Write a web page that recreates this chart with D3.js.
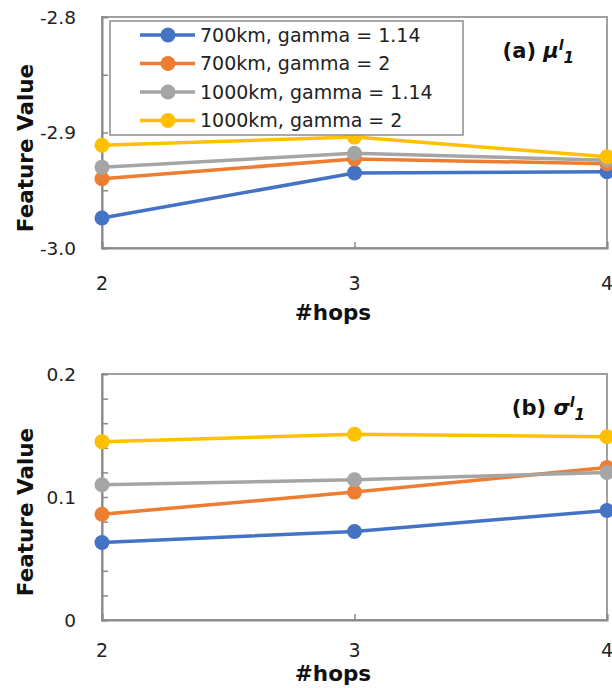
<!DOCTYPE html>
<html><head><meta charset="utf-8">
<script src="https://cdn.jsdelivr.net/npm/d3@7/dist/d3.min.js"></script>
<style>body{margin:0;background:#fff}svg{display:block}</style>
</head><body>
<svg id="c" width="612" height="688"></svg>
<script>
const hops = [2, 3, 4];
const seriesNames = ["700km, gamma = 1.14", "700km, gamma = 2", "1000km, gamma = 1.14", "1000km, gamma = 2"];
const seriesColors = ["#4472C4", "#ED7D31", "#A5A5A5", "#FFC000"];
// panel (a) mu'_1
const mu700g114 = [-2.974, -2.935, -2.934];
const mu700g2 = [-2.940, -2.923, -2.927];
const mu1000g114 = [-2.930, -2.918, -2.924];
const mu1000g2 = [-2.911, -2.904, -2.921];
// panel (b) sigma'_1
const sd700g114 = [0.063, 0.072, 0.089];
const sd700g2 = [0.086, 0.104, 0.124];
const sd1000g114 = [0.110, 0.114, 0.120];
const sd1000g2 = [0.145, 0.151, 0.149];
const muTicks = [-3.0, -2.9, -2.8];
const muTickLabels = ["-3.0", "-2.9", "-2.8"];
const sdTicks = [0, 0.1, 0.2];
const sdTickLabels = ["0", "0.1", "0.2"];

const svg = d3.select("#c");
const FONT = "DejaVu Sans";
const axisColor = "#898989";

function panel(cfg) {
  const g = svg.append("g");
  const x = d3.scaleLinear().domain([2, 4]).range([cfg.left, cfg.right]);
  const y = d3.scaleLinear().domain(cfg.domain).range([cfg.bottom, cfg.top]);
  // frame
  g.append("rect").attr("x", cfg.left).attr("y", cfg.top)
    .attr("width", cfg.right - cfg.left).attr("height", cfg.bottom - cfg.top)
    .attr("fill", "none").attr("stroke", "#a0a0a0").attr("stroke-width", 2);
  // y axis (inner ticks)
  const ya = d3.axisRight(y).tickValues(cfg.minor).tickSize(6).tickFormat("");
  const yg = g.append("g").attr("transform", `translate(${cfg.left},0)`).call(ya);
  yg.selectAll("line").attr("stroke", axisColor).attr("stroke-width", 1.5);
  yg.select(".domain").attr("stroke", axisColor).attr("stroke-width", 2);
  g.selectAll(".ylab").data(cfg.ticks).join("text")
    .attr("x", cfg.left - 26).attr("y", d => y(d)).attr("dy", "0.36em")
    .attr("text-anchor", "end").attr("font-family", FONT).attr("font-size", 18.5)
    .attr("fill", "#222").text((d, i) => cfg.tickLabels[i]);
  // x axis
  const xa = d3.axisTop(x).tickValues(hops).tickSize(6).tickFormat("");
  const xg = g.append("g").attr("transform", `translate(0,${cfg.bottom})`).call(xa);
  xg.selectAll("line").attr("stroke", axisColor).attr("stroke-width", 1.5);
  xg.select(".domain").attr("stroke", axisColor).attr("stroke-width", 2);
  g.selectAll(".xlab").data(hops).join("text")
    .attr("x", d => x(d)).attr("y", cfg.xlabY).attr("text-anchor", "middle")
    .attr("font-family", FONT).attr("font-size", 19).attr("fill", "#222").text(d => d);
  g.append("text").attr("x", 333).attr("y", cfg.xTitleY).attr("text-anchor", "middle")
    .attr("font-family", FONT).attr("font-weight", "bold").attr("font-size", 21.5)
    .attr("fill", "#111").text("#hops");
  g.append("text").attr("transform", `translate(33,${cfg.yTitleC}) rotate(-90)`)
    .attr("text-anchor", "middle").attr("font-family", FONT).attr("font-weight", "bold")
    .attr("font-size", 21.5).attr("fill", "#111").text("Feature Value");
  // series
  const line = d3.line().x((d, i) => x(hops[i])).y(d => y(d));
  cfg.series.forEach((s, k) => {
    g.append("path").attr("d", line(s)).attr("fill", "none")
      .attr("stroke", seriesColors[k]).attr("stroke-width", 3.5);
    g.selectAll(null).data(s).join("circle")
      .attr("cx", (d, i) => x(hops[i])).attr("cy", d => y(d)).attr("r", 7.5)
      .attr("fill", seriesColors[k]);
  });
  // title
  const t = g.append("text").attr("x", cfg.titleX).attr("y", cfg.titleY)
    .attr("text-anchor", "end").attr("font-family", FONT).attr("font-weight", "bold")
    .attr("font-size", 21).attr("fill", "#111");
  t.append("tspan").text(cfg.titleA + " ");
  t.append("tspan").attr("font-style", "italic").text(cfg.sym);
  t.append("tspan").attr("font-style", "italic").attr("font-size", 14).attr("dy", -8).text("l");
  t.append("tspan").attr("font-style", "italic").attr("font-size", 15).attr("dy", 13).text("1");
  return {g, x, y};
}

const pa = panel({
  left: 102, right: 607, top: 17, bottom: 248, domain: [-3.0, -2.8],
  ticks: muTicks, tickLabels: muTickLabels, minor: [-2.95, -2.9, -2.85],
  xlabY: 290, xTitleY: 320, yTitleC: 148,
  series: [mu700g114, mu700g2, mu1000g114, mu1000g2],
  titleA: "(a)", sym: "μ", titleX: 574, titleY: 58
});
const pb = panel({
  left: 102, right: 607, top: 374, bottom: 620, domain: [0, 0.2],
  ticks: sdTicks, tickLabels: sdTickLabels, minor: d3.range(1, 10).map(i => i * 0.02),
  xlabY: 657, xTitleY: 681, yTitleC: 512,
  series: [sd700g114, sd700g2, sd1000g114, sd1000g2],
  titleA: "(b)", sym: "σ", titleX: 585, titleY: 415
});

// legend (panel a)
const lg = svg.append("g");
lg.append("rect").attr("x", 110).attr("y", 21).attr("width", 353).attr("height", 114)
  .attr("fill", "#fff").attr("stroke", "#8c8c8c").attr("stroke-width", 1.5);
seriesNames.forEach((n, k) => {
  const yy = 35 + k * 28.5;
  lg.append("line").attr("x1", 140).attr("x2", 195).attr("y1", yy).attr("y2", yy)
    .attr("stroke", seriesColors[k]).attr("stroke-width", 3.5);
  lg.append("circle").attr("cx", 168).attr("cy", yy).attr("r", 7.5).attr("fill", seriesColors[k]);
  lg.append("text").attr("x", 200).attr("y", yy).attr("dy", "0.36em")
    .attr("font-family", FONT).attr("font-size", 19).attr("fill", "#222").text(n);
});
</script>
</body></html>
